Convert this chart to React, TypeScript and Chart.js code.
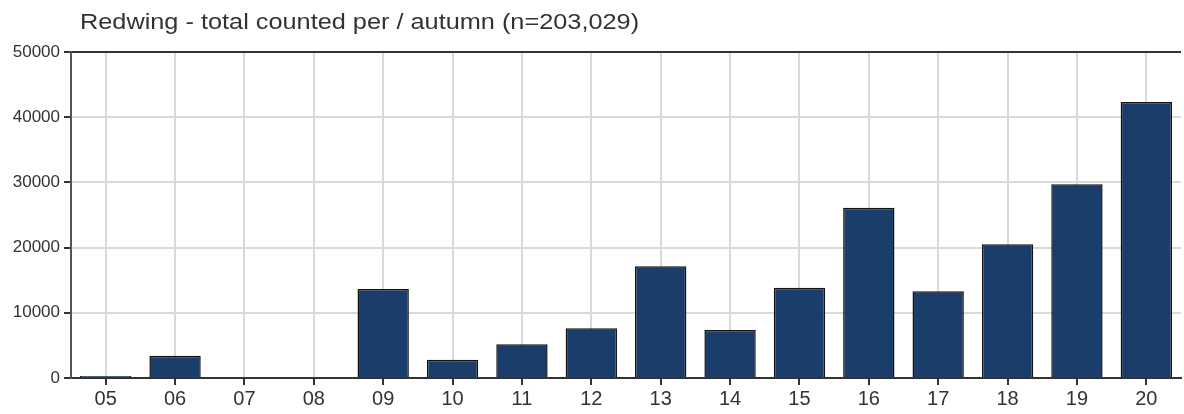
import React, { useEffect, useRef } from "react";
import { Chart, registerables } from "chart.js";

Chart.register(...registerables);

const titleText = "Redwing - total counted per / autumn (n=203,029)";
const categories = ["05", "06", "07", "08", "09", "10", "11", "12", "13", "14", "15", "16", "17", "18", "19", "20"];
const counts = [300, 3400, 0, 0, 13650, 2800, 5170, 7620, 17130, 7360, 13850, 26120, 13300, 20500, 29710, 42330];
const yTicks = [0, 10000, 20000, 30000, 40000, 50000];

const FONT = "'Liberation Sans', Arial, sans-serif";

const titlePlugin = {
  id: "customTitle",
  afterDraw(chart: any) {
    const { ctx, chartArea } = chart;
    ctx.save();
    ctx.font = `22px ${FONT}`;
    ctx.fillStyle = "#333333";
    ctx.textAlign = "left";
    ctx.textBaseline = "alphabetic";
    ctx.translate(chartArea.left + 9, 29);
    ctx.scale(1.15, 1);
    ctx.fillText(titleText, 0, 0);
    ctx.restore();
  },
};

export default function App() {
  const ref = useRef<HTMLCanvasElement | null>(null);
  useEffect(() => {
    if (!ref.current) return;
    const chart = new Chart(ref.current, {
      type: "bar",
      data: {
        labels: categories,
        datasets: [
          {
            data: counts,
            backgroundColor: "#1b3d69",
            borderColor: "#111111",
            borderWidth: 1.5,
            barPercentage: 0.74,
            categoryPercentage: 1,
          },
        ],
      },
      options: {
        animation: false,
        responsive: true,
        maintainAspectRatio: false,
        layout: { padding: { top: 52, right: 3, left: 0, bottom: 0 } },
        plugins: { legend: { display: false }, title: { display: false }, tooltip: { enabled: false } },
        scales: {
          x: {
            grid: {
              offset: false,
              color: "#d9d9d9",
              lineWidth: 2,
              tickColor: "#333333",
              tickLength: 7,
              drawTicks: true,
            },
            border: { display: true, color: "#333333", width: 2 },
            ticks: { color: "#333333", font: { family: FONT, size: 20 }, padding: 2, maxRotation: 0 },
            afterFit(scale: any) {
              scale.height = 36;
            },
          },
          y: {
            min: 0,
            max: 50000,
            afterBuildTicks(scale: any) {
              scale.ticks = yTicks.map((v) => ({ value: v }));
            },
            grid: {
              color: (c: any) => (c.tick && c.tick.value === 50000 ? "#333333" : "#d9d9d9"),
              lineWidth: 2,
              tickColor: "#333333",
              tickLength: 7,
            },
            border: { display: true, color: "#555555", width: 2 },
            ticks: {
              color: "#333333",
              font: { family: FONT, size: 17 },
              padding: 4,
              callback: (v: any) => String(v),
            },
            afterFit(scale: any) {
              scale.width = 71;
            },
          },
        },
      },
      plugins: [titlePlugin],
    });
    return () => chart.destroy();
  }, []);
  return (
    <div style={{ position: "fixed", left: 0, top: 0, width: 1184, height: 414, background: "#fff" }}>
      <canvas ref={ref} />
    </div>
  );
}
